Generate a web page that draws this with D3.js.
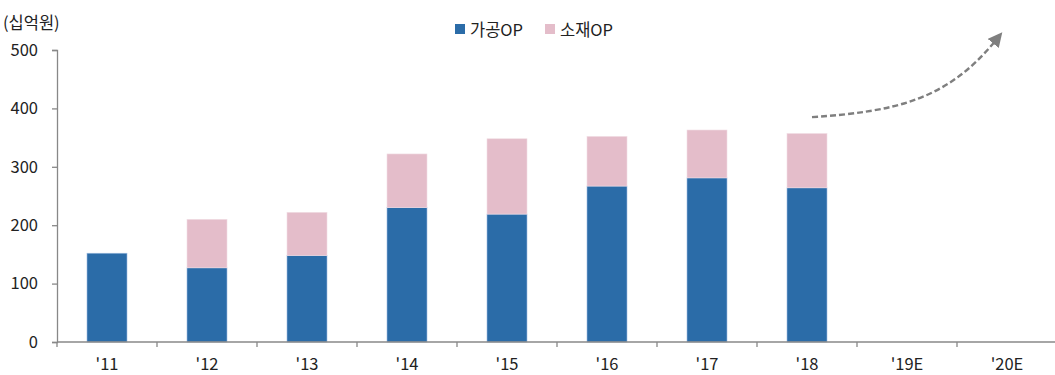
<!DOCTYPE html>
<html>
<head>
<meta charset="utf-8">
<script src="https://cdn.jsdelivr.net/npm/d3@7"></script>
<style>
  body { margin: 0; background: #fff; }
  text { font-family: "Noto Sans CJK KR", "Noto Sans", sans-serif; fill: #222; }
</style>
</head>
<body>
<div id="chart"></div>
<script>
const W = 1055, H = 375;
const margin = { top: 50, right: -2, bottom: 33, left: 57 };
const fontSize = "16.5px";

// 데이터
const years = ["'11", "'12", "'13", "'14", "'15", "'16", "'17", "'18", "'19E", "'20E"];
const processOP = [152, 127, 148, 230, 219, 267, 281, 264, null, null];   // 가공OP
const materialOP = [0, 83, 74, 92, 129, 85, 82, 93, null, null];         // 소재OP
const yTicks = [0, 100, 200, 300, 400, 500];
const seriesNames = ["가공OP", "소재OP"];
const colors = ["#2b6ca8", "#e4bdca"];

// 화살표 (카테고리 인덱스, 값)
const arrowIdx = [7.05, 7.9, 8.4, 8.88];
const arrowVal = [385, 395, 415, 515];

const svg = d3.select("#chart").append("svg")
  .attr("width", W).attr("height", H);

const x = d3.scaleBand()
  .domain(years)
  .range([margin.left, W - margin.right])
  .paddingInner(0.6).paddingOuter(0.3);

const y = d3.scaleLinear()
  .domain([0, 500])
  .range([H - margin.bottom, margin.top]);

const data = years.map((yr, i) => ({ year: yr, p: processOP[i], m: materialOP[i] }))
  .filter(d => d.p != null);

// 막대
const g = svg.append("g");
data.forEach(d => {
  g.append("rect")
    .attr("x", x(d.year)).attr("width", x.bandwidth())
    .attr("y", y(d.p)).attr("height", y(0) - y(d.p))
    .attr("fill", colors[0])
    .attr("stroke", "#9dbbe0").attr("stroke-width", 0.6);
  if (d.m > 0) {
    g.append("rect")
      .attr("x", x(d.year)).attr("width", x.bandwidth())
      .attr("y", y(d.p + d.m)).attr("height", y(d.p) - y(d.p + d.m))
      .attr("fill", colors[1])
      .attr("stroke", "#f0dde3").attr("stroke-width", 0.6);
  }
});

// Y축
const yAxis = svg.append("g")
  .attr("transform", `translate(${margin.left},0)`)
  .call(d3.axisLeft(y).tickValues(yTicks).tickSize(5).tickPadding(14));
yAxis.selectAll("path, line").attr("stroke", "#888").attr("stroke-width", 1.3);
yAxis.selectAll("text").style("font-size", fontSize).attr("fill", "#222");

// X축
const xStep = x.step();
const xAxis = svg.append("g")
  .attr("transform", `translate(0,${y(0)})`)
  .call(d3.axisBottom(x).tickSize(0).tickPadding(16));
xAxis.select(".domain").attr("stroke", "#888").attr("stroke-width", 1.3)
  .attr("d", `M${margin.left},0H${W}`);
xAxis.selectAll("text").style("font-size", fontSize).attr("fill", "#222");
// 카테고리 경계 눈금
svg.append("g").selectAll("line")
  .data(years)
  .join("line")
  .attr("x1", d => x(d) + x.bandwidth() / 2 - xStep / 2)
  .attr("x2", d => x(d) + x.bandwidth() / 2 - xStep / 2)
  .attr("y1", y(0)).attr("y2", y(0) + 5)
  .attr("stroke", "#888").attr("stroke-width", 1.3);

// 단위
svg.append("text")
  .attr("x", 3).attr("y", 29)
  .style("font-size", fontSize)
  .text("(십억원)");

// 범례
const legendX = [455, 545];
seriesNames.forEach((name, i) => {
  svg.append("rect")
    .attr("x", legendX[i]).attr("y", 24).attr("width", 10).attr("height", 10)
    .attr("fill", colors[i]);
  svg.append("text")
    .attr("x", legendX[i] + 15).attr("y", 36)
    .style("font-size", fontSize)
    .text(name);
});

// 화살표
const xi = d3.scaleLinear()
  .domain([0, 1])
  .range([x(years[0]) + x.bandwidth() / 2, x(years[1]) + x.bandwidth() / 2]);
const pts = arrowIdx.map((v, i) => [xi(v), y(arrowVal[i])]);

svg.append("defs").append("marker")
  .attr("id", "arrowhead")
  .attr("viewBox", "0 0 10 10")
  .attr("refX", 2).attr("refY", 5)
  .attr("markerWidth", 6).attr("markerHeight", 6)
  .attr("markerUnits", "strokeWidth")
  .attr("orient", "auto")
  .append("path")
  .attr("d", "M0,0L10,5L0,10Z")
  .attr("fill", "#7f7f7f");

svg.append("path")
  .attr("d", `M${pts[0]}C${pts[1]} ${pts[2]} ${pts[3]}`)
  .attr("fill", "none")
  .attr("stroke", "#7f7f7f")
  .attr("stroke-width", 2.4)
  .attr("stroke-dasharray", "6,3")
  .attr("marker-end", "url(#arrowhead)");
</script>
</body>
</html>
